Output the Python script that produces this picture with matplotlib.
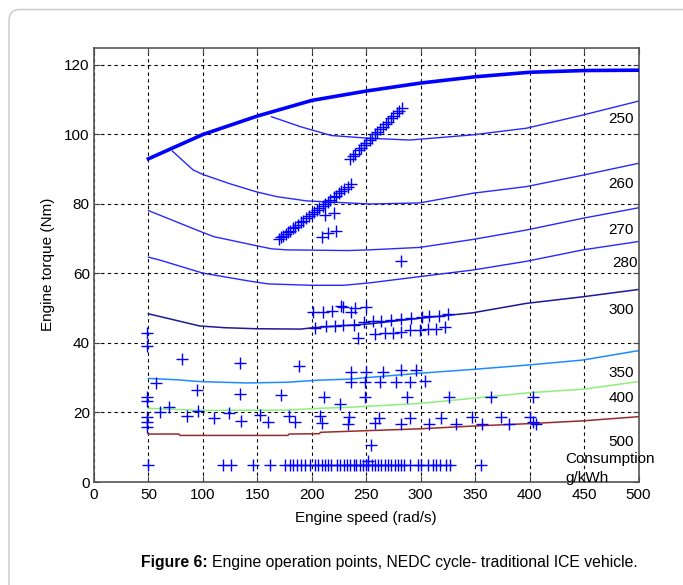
import numpy as np
import matplotlib
matplotlib.use("Agg")
import matplotlib.pyplot as plt
import matplotlib.patches as mpatches
from matplotlib.transforms import IdentityTransform

plt.rcParams['font.family'] = ['Liberation Sans', 'DejaVu Sans']

# full load (max torque) curve
max_speed = [50, 100, 150, 200, 250, 300, 350, 400, 450, 500]
max_torque = [93.0, 100.0, 105.3, 109.8, 112.5, 114.8, 116.6, 117.9, 118.4, 118.5]

# iso-consumption curves, g/kWh
c250_x = [163, 190, 218, 253, 290, 348, 397, 449, 500]
c250_y = [105.1, 102.2, 99.7, 98.9, 98.4, 99.9, 101.8, 105.6, 109.6]
c260_x = [72, 91, 100, 125, 149, 168, 195, 253, 299, 348, 397, 449, 500]
c260_y = [95.2, 89.8, 88.5, 85.8, 83.5, 82.1, 80.9, 80.0, 80.3, 83.1, 85.0, 88.3, 91.7]
c270_x = [50, 100, 110, 149, 163, 177, 233, 253, 299, 348, 397, 449, 500]
c270_y = [78.1, 71.8, 70.6, 68.0, 67.1, 66.8, 66.6, 66.8, 67.5, 69.8, 72.5, 75.9, 78.9]
c280_x = [50, 60, 100, 143, 160, 200, 229, 253, 299, 348, 397, 449, 500]
c280_y = [64.7, 63.9, 60.1, 57.8, 57.0, 56.6, 56.6, 57.3, 59.1, 61.0, 63.5, 66.8, 69.2]
c300_x = [50, 97, 120, 149, 190, 201, 253, 299, 348, 397, 449, 500]
c300_y = [48.4, 44.9, 44.4, 44.1, 44.0, 44.4, 45.5, 47.1, 48.7, 51.4, 53.3, 55.4]
c350_x = [50, 77, 97, 140, 177, 206, 235, 253, 299, 348, 400, 449, 500]
c350_y = [29.8, 29.4, 28.9, 28.5, 28.7, 29.3, 29.6, 30.1, 31.3, 32.4, 33.7, 35.1, 37.8]
c400_x = [50, 99, 177, 206, 235, 299, 348, 400, 449, 500]
c400_y = [21.2, 20.6, 20.7, 21.2, 21.5, 22.6, 24.1, 25.7, 26.7, 28.9]
c500_x = [50, 78, 79, 178, 179, 207, 208, 235, 299, 348, 400, 449, 500]
c500_y = [13.8, 13.8, 13.4, 13.4, 13.8, 13.9, 14.3, 14.6, 15.3, 16.1, 16.8, 17.6, 18.8]

curve_labels = ['250', '260', '270', '280', '300', '350', '400', '500']
label_x = [472.5, 472.5, 472.5, 476, 472.5, 472.5, 472.5, 472.5]
label_y = [104.5, 85.8, 72.5, 62.9, 49.5, 31.5, 24.1, 11.6]

# operating points (rad/s, Nm)
pts_upper_x = [235, 238, 240, 243, 245, 248, 250, 253, 255, 258, 260, 263, 265, 268, 270,
               273, 275, 278, 280, 283]
pts_upper_y = [93.0, 93.8, 94.5, 95.4, 96.0, 96.9, 97.5, 98.4, 99.0, 100.0, 100.6, 101.5,
               102.1, 103.0, 103.7, 104.6, 105.2, 106.2, 106.8, 107.6]
pts_mid_x = [170, 172, 174, 176, 178, 180, 183, 185, 187, 190, 192, 195, 197, 200, 202, 205,
             207, 210, 212, 215, 217, 220, 222, 225, 227, 230, 233, 236,
             212, 220, 209, 215, 222.6, 282.3]
pts_mid_y = [69.9, 70.4, 70.9, 71.3, 71.8, 72.3, 73.0, 73.5, 73.9, 74.7, 75.2, 75.9, 76.4,
             77.1, 77.6, 78.3, 78.8, 79.5, 80.0, 80.7, 81.2, 81.9, 82.4, 83.1, 83.6, 84.3,
             85.0, 85.8,
             76.7, 77.4, 70.4, 71.6, 72.3, 63.7]
pts_45_x = [201, 210, 219, 227, 229, 236, 240, 250,
            203, 213, 221, 229, 239, 248, 242.5,
            256, 264, 273, 282, 291, 301, 308, 317, 325,
            258, 267, 275, 282, 290, 299, 307, 314, 322]
pts_45_y = [49.0, 49.0, 49.3, 50.7, 50.3, 49.0, 50.2, 50.4,
            44.2, 44.8, 44.9, 45.3, 45.2, 46.0, 41.3,
            46.3, 46.4, 46.6, 46.9, 47.2, 47.6, 47.8, 47.9, 48.2,
            42.6, 42.9, 43.0, 43.1, 43.6, 43.8, 44.0, 44.1, 44.6]
pts_low_x = [49, 49, 80.4, 134, 188.7, 56.8, 94.5, 134, 171.8, 211.2, 225.7, 49, 49,
             60.8, 69, 85.6, 95.8, 110.2, 124, 135, 152.3, 160, 179.5, 184.5, 207.6,
             209.4, 234.5, 233.3, 49, 49, 49, 236.4, 236.4, 249,
             250, 265.4, 281.5, 296, 248.6, 262.4, 277.5, 290.2, 304,
             287.4, 326, 364.6, 402.7,
             257.8, 262, 282.3, 290.3, 307.2, 318.2, 332.4, 347, 356.5, 373.5, 381.4,
             400, 403, 406, 251.7, 254.8]
pts_low_y = [43.0, 39.0, 35.5, 34.2, 33.5, 28.4, 26.5, 25.4, 25.0, 24.6, 22.5, 24.5, 23.4,
             20.2, 21.6, 19.1, 20.4, 18.3, 19.9, 17.6, 19.2, 17.2, 19.1, 17.2, 18.9,
             17.0, 18.8, 16.8, 18.8, 17.3, 15.7, 31.7, 28.9, 24.5,
             31.7, 31.7, 32.2, 32.2, 28.9, 28.9, 28.9, 28.9, 29.2,
             24.4, 24.4, 24.4, 24.4,
             17.0, 18.5, 16.6, 18.5, 16.6, 18.3, 16.6, 18.6, 16.6, 18.6, 16.6,
             18.7, 17.4, 16.6, 5.9, 10.6]
idle_x = [50, 118.6, 126.2, 145.6, 161.5, 175, 180, 183, 186, 190.5, 193.6, 198, 203, 206,
          209, 212, 215, 218, 222.7, 225.7, 229.4, 232, 235, 238.5, 241, 244, 247, 250,
          252, 255, 258, 261, 264, 267, 270, 273, 276, 279, 282, 285, 290, 297.5, 300.6,
          306.7, 311.3, 314.4, 317.4, 323.6, 326.6, 355.7]
idle_torque = 5.0

W, H = 683, 585
fig = plt.figure(figsize=(W / 100, H / 100), dpi=100)

# light rounded frame around the figure
frame = mpatches.FancyBboxPatch((9, -30), 720, H - 9.5 + 30,
                                boxstyle="round,pad=0,rounding_size=11",
                                transform=IdentityTransform(), facecolor='white',
                                edgecolor='#c8c8c8', linewidth=1.0, zorder=-10)
fig.add_artist(frame)

ax = fig.add_axes([94 / W, (H - 482) / H, 544.5 / W, (482 - 47.6) / H])
ax.set_xlim(0, 500)
ax.set_ylim(0, 125)

ax.plot(max_speed, max_torque, color='#0000ff', lw=2.6, zorder=3)
for cx, cy, col, lw in [(c250_x, c250_y, '#2828ff', 1.0),
                        (c260_x, c260_y, '#2828ff', 1.0),
                        (c270_x, c270_y, '#2828ff', 1.0),
                        (c280_x, c280_y, '#2828ff', 1.0),
                        (c300_x, c300_y, '#1a1a9a', 1.1),
                        (c350_x, c350_y, '#1c8cff', 1.1),
                        (c400_x, c400_y, '#8cf07a', 1.1),
                        (c500_x, c500_y, '#9a2a2a', 1.1)]:
    ax.plot(cx, cy, color=col, lw=lw, zorder=2)

mk = dict(marker='+', linestyle='none', color='#0000ff', markersize=9, markeredgewidth=1.0, zorder=4)
ax.plot(pts_upper_x, pts_upper_y, **mk)
ax.plot(pts_mid_x, pts_mid_y, **mk)
ax.plot(pts_45_x, pts_45_y, **mk)
ax.plot(pts_low_x, pts_low_y, **mk)
ax.plot(idle_x, [idle_torque] * len(idle_x), **mk)

for t, x, y in zip(curve_labels, label_x, label_y):
    ax.text(x, y, t, fontsize=11, ha='left', va='center', zorder=5)
ax.text(433, 6.5, 'Consumption', fontsize=11, ha='left', va='center', clip_on=False, zorder=5)
ax.text(433, 1.1, 'g/kWh', fontsize=11, ha='left', va='center', clip_on=False, zorder=5)

ax.set_xticks(np.arange(0, 501, 50))
ax.set_yticks(np.arange(0, 121, 20))
ax.grid(True, color='black', linestyle=(0, (3, 3)), linewidth=0.8)
ax.tick_params(direction='in', length=4, width=0.8, labelsize=11, top=True, right=True,
               color='#444444')
ax.tick_params(axis='x', pad=4)
ax.tick_params(axis='y', pad=3)
for s in ax.spines.values():
    s.set_color('#555555')
    s.set_linewidth(1.2)

ax.set_xlabel('Engine speed (rad/s)', fontsize=11, labelpad=7)
ax.set_ylabel('Engine torque (Nm)', fontsize=11, labelpad=7)

# caption: bold prefix then normal text
renderer = fig.canvas.get_renderer()
cap_y = 1 - 563 / H
t1 = fig.text(141 / W, cap_y, 'Figure 6:', fontsize=11.3, fontweight='bold', ha='left', va='center')
bb = t1.get_window_extent(renderer)
fig.text((bb.x1 + 4) / W, cap_y, 'Engine operation points, NEDC cycle- traditional ICE vehicle.',
         fontsize=11.3, ha='left', va='center')

fig.savefig('out.png', dpi=100)
